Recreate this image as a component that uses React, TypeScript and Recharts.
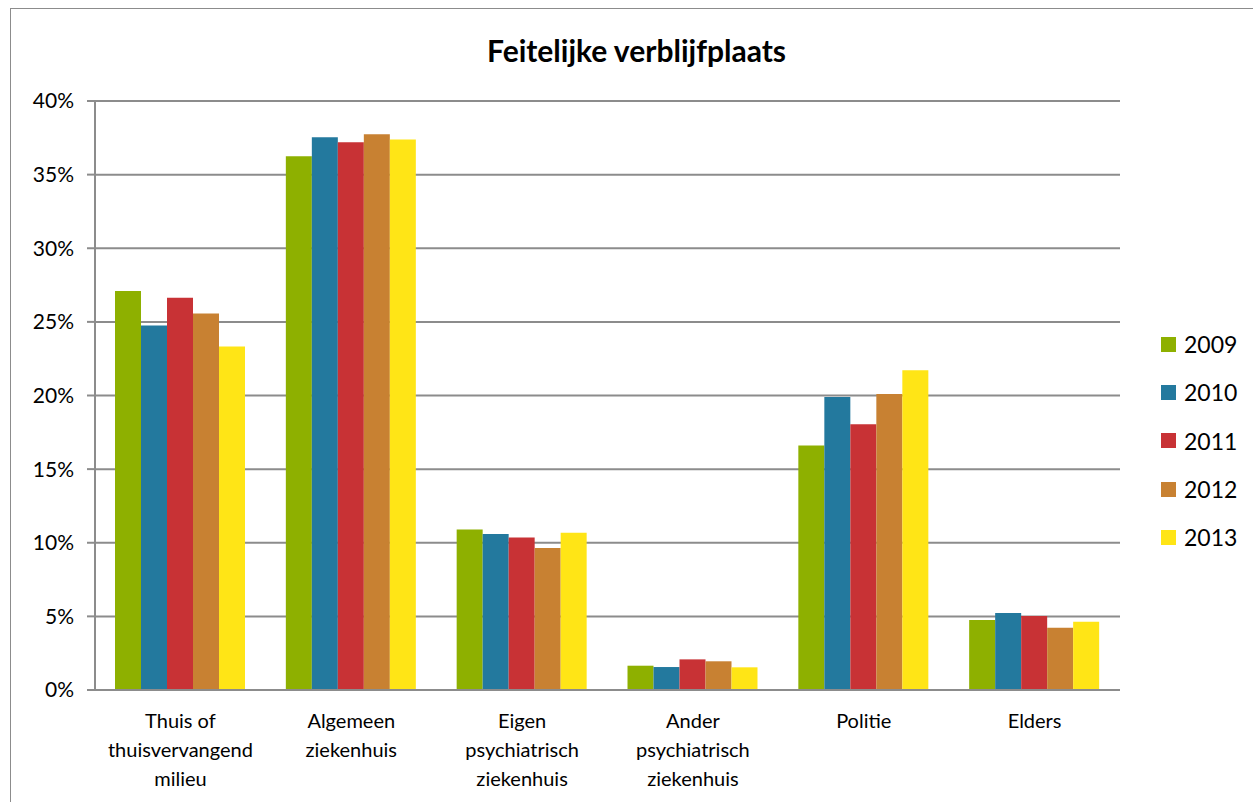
import { BarChart, Bar, XAxis, YAxis, CartesianGrid } from "recharts";

const categories = [
  "Thuis of\nthuisvervangend\nmilieu",
  "Algemeen\nziekenhuis",
  "Eigen\npsychiatrisch\nziekenhuis",
  "Ander\npsychiatrisch\nziekenhuis",
  "Politie",
  "Elders",
];

const years = ["2009", "2010", "2011", "2012", "2013"];
const colors = ["#8eb000", "#23799e", "#c83235", "#c88132", "#ffe516"];

// percentages per category, one array per year
const v2009 = [27.1, 36.25, 10.9, 1.65, 16.6, 4.75];
const v2010 = [24.76, 37.54, 10.59, 1.56, 19.89, 5.23];
const v2011 = [26.63, 37.2, 10.36, 2.08, 18.04, 5.02];
const v2012 = [25.57, 37.75, 9.64, 1.95, 20.1, 4.23];
const v2013 = [23.33, 37.38, 10.68, 1.54, 21.72, 4.64];

const yTicks = [0, 5, 10, 15, 20, 25, 30, 35, 40];

const series = [v2009, v2010, v2011, v2012, v2013];

const data = categories.map((name, i) => {
  const row: Record<string, string | number> = { name };
  years.forEach((y, j) => {
    row[y] = series[j][i];
  });
  return row;
});

const FONT = "Lato, 'Open Sans', sans-serif";

function CategoryTick(props: any) {
  const { x, y, payload } = props;
  const lines = String(payload.value).split("\n");
  return (
    <g transform={`translate(${x},${y})`}>
      {lines.map((line, i) => (
        <text
          key={i}
          x={0}
          y={30 + i * 29}
          textAnchor="middle"
          fill="#000"
          fontSize={20}
          fontFamily={FONT}
        >
          {line}
        </text>
      ))}
    </g>
  );
}

export default function App() {
  return (
    <div
      style={{
        position: "absolute",
        left: 0,
        top: 0,
        width: 1253,
        height: 802,
        background: "#fff",
        overflow: "hidden",
        fontFamily: FONT,
      }}
    >
      <div
        style={{
          position: "absolute",
          left: 10,
          top: 8,
          width: 1260,
          height: 820,
          border: "1.5px solid #8c8c8c",
        }}
      />
      <div
        style={{
          position: "absolute",
          left: 0,
          top: 32,
          width: 1273,
          textAlign: "center",
          fontSize: 30,
          fontWeight: 700,
          color: "#000",
        }}
      >
        Feitelijke verblijfplaats
      </div>
      <div style={{ position: "absolute", left: 0, top: 0 }}>
        <BarChart
          width={1253}
          height={802}
          data={data}
          margin={{ top: 101, right: 133, left: 0, bottom: 0 }}
          barCategoryGap={20}
          barGap={0}
        >
          <CartesianGrid
            vertical={false}
            stroke="#8c8c8c"
            strokeWidth={2}
          />
          <XAxis
            dataKey="name"
            height={112}
            tickLine={false}
            axisLine={{ stroke: "#8c8c8c", strokeWidth: 2 }}
            tick={<CategoryTick />}
            interval={0}
          />
          <YAxis
            width={95}
            domain={[0, 40]}
            ticks={yTicks}
            tickFormatter={(v) => `${v}%`}
            tickSize={8}
            tickMargin={13}
            tickLine={{ stroke: "#8c8c8c", strokeWidth: 2 }}
            axisLine={{ stroke: "#8c8c8c", strokeWidth: 2 }}
            tick={{ fill: "#000", fontSize: 21, fontFamily: FONT }}
          />
          {years.map((y, i) => (
            <Bar
              key={y}
              dataKey={y}
              fill={colors[i]}
              isAnimationActive={false}
            />
          ))}
        </BarChart>
      </div>
      <div style={{ position: "absolute", left: 1161, top: 320 }}>
        {years.map((y, i) => (
          <div
            key={y}
            style={{
              display: "flex",
              alignItems: "center",
              height: 48.3,
            }}
          >
            <div
              style={{
                width: 15,
                height: 15,
                background: colors[i],
                marginRight: 8,
              }}
            />
            <span style={{ fontSize: 23, color: "#000", lineHeight: "24px" }}>
              {y}
            </span>
          </div>
        ))}
      </div>
    </div>
  );
}
